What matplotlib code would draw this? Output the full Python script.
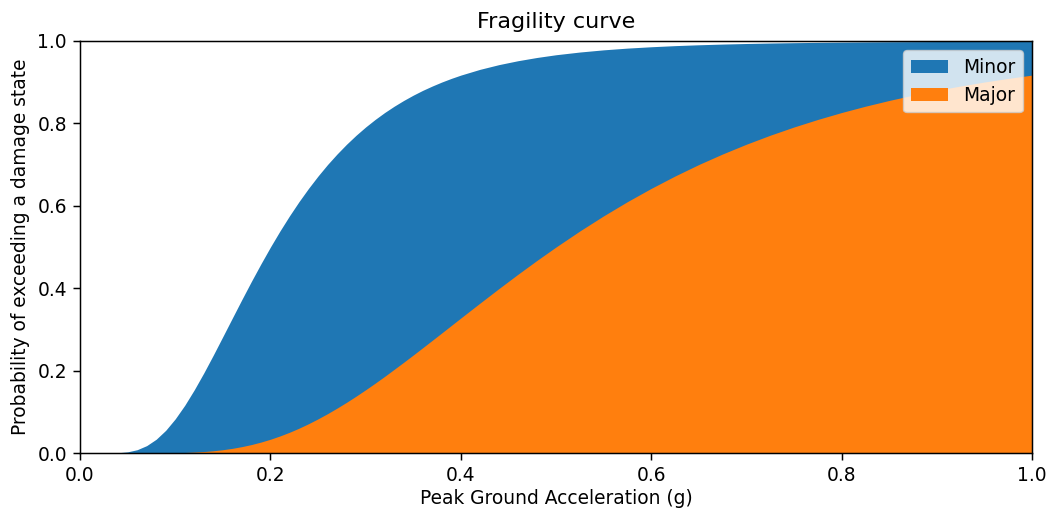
import numpy as np
import matplotlib
matplotlib.use("Agg")
import matplotlib.pyplot as plt

# ---- data: exceedance probability vs PGA ----
pga = [0.00, 0.01, 0.02, 0.03, 0.04, 0.05, 0.06, 0.07, 0.08, 0.09,
       0.10, 0.11, 0.12, 0.13, 0.14, 0.15, 0.16, 0.17, 0.18, 0.19,
       0.20, 0.21, 0.22, 0.23, 0.24, 0.25, 0.26, 0.27, 0.28, 0.29,
       0.30, 0.31, 0.32, 0.33, 0.34, 0.35, 0.36, 0.37, 0.38, 0.39,
       0.40, 0.42, 0.44, 0.46, 0.48, 0.50, 0.525, 0.55, 0.575, 0.60,
       0.625, 0.65, 0.675, 0.70, 0.725, 0.75, 0.775, 0.80, 0.825, 0.85,
       0.875, 0.90, 0.925, 0.95, 0.975, 1.00]

p_minor = [0.0, 0.0, 0.0, 0.00007, 0.0006, 0.0028, 0.0080, 0.0179, 0.0334, 0.0551,
           0.0829, 0.1159, 0.1535, 0.1944, 0.2378, 0.2826, 0.3277, 0.3726, 0.4166, 0.4591,
           0.5000, 0.5389, 0.5756, 0.6101, 0.6423, 0.6723, 0.7002, 0.7258, 0.7495, 0.7713,
           0.7913, 0.8096, 0.8264, 0.8417, 0.8557, 0.8685, 0.8802, 0.8907, 0.9004, 0.9092,
           0.9172, 0.9311, 0.9426, 0.9521, 0.9600, 0.9666, 0.9732, 0.9785, 0.9827, 0.9860,
           0.9887, 0.9908, 0.9925, 0.9939, 0.9950, 0.9959, 0.9966, 0.9972, 0.9977, 0.9981,
           0.9984, 0.9987, 0.9989, 0.9991, 0.9992, 0.9994]

p_major = [0.0, 0.0, 0.0, 0.0, 0.0, 0.0, 0.00001, 0.00004, 0.0001, 0.0003,
           0.0006, 0.0012, 0.0022, 0.0035, 0.0054, 0.0080, 0.0113, 0.0155, 0.0205, 0.0265,
           0.0334, 0.0414, 0.0503, 0.0602, 0.0711, 0.0829, 0.0955, 0.1090, 0.1231, 0.1380,
           0.1535, 0.1695, 0.1860, 0.2031, 0.2203, 0.2378, 0.2556, 0.2735, 0.2915, 0.3096,
           0.3277, 0.3636, 0.3991, 0.4338, 0.4675, 0.5000, 0.5389, 0.5756, 0.6101, 0.6423,
           0.6723, 0.7002, 0.7258, 0.7495, 0.7713, 0.7913, 0.8096, 0.8264, 0.8417, 0.8557,
           0.8685, 0.8802, 0.8907, 0.9004, 0.9092, 0.9172]

states = ["Minor", "Major"]

# ---- plot ----
plt.rcParams["axes.linewidth"] = 1.07
plt.rcParams["xtick.major.width"] = 1.07
plt.rcParams["ytick.major.width"] = 1.07
plt.rcParams["xtick.major.size"] = 4.7
plt.rcParams["ytick.major.size"] = 4.7

fig = plt.figure(figsize=(10.49, 5.11), dpi=100)
ax = fig.add_axes([0.0763, 0.1135, 0.9075, 0.8063])

ax.fill_between(pga, 0, p_minor, color="C0", label=states[0], linewidth=0)
ax.fill_between(pga, 0, p_major, color="C1", label=states[1], linewidth=0)

ax.set_xlim(0, 1)
ax.set_ylim(0, 1)
ax.set_xticks(np.arange(0, 1.01, 0.2))
ax.set_yticks(np.arange(0, 1.01, 0.2))
ax.tick_params(labelsize=13.4, pad=4.7)

ax.set_title("Fragility curve", fontsize=16, pad=9.5)
ax.set_xlabel("Peak Ground Acceleration (g)", fontsize=13.4, labelpad=3)
ax.set_ylabel("Probability of exceeding a damage state", fontsize=13.4, labelpad=5)
ax.legend(loc="upper right", fontsize=13.4, borderaxespad=0.5)

fig.savefig("out.png", dpi=100)
